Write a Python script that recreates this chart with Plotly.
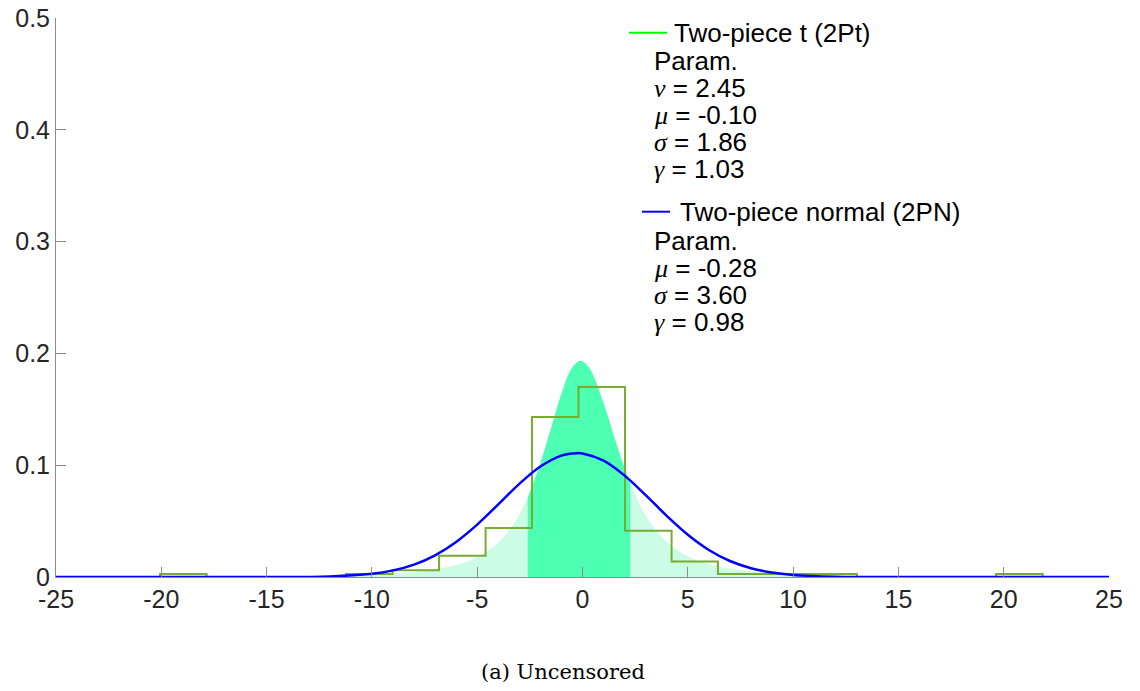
import plotly.graph_objects as go

# ---------------- data ----------------
# Histogram (stairs) of the data: bin edges and heights
bin_edges = [-20.06, -17.85, -15.64, -13.43, -11.23, -9.02, -6.81, -4.60, -2.40, -0.19,
             2.02, 4.23, 6.43, 8.64, 10.83, 13.03, 15.24, 17.44, 19.64, 21.85]
bin_heights = [0.0027, 0.0, 0.0, 0.0, 0.0027, 0.0060, 0.0190, 0.0438, 0.1431, 0.1700,
               0.0414, 0.0138, 0.0027, 0.0027, 0.0027, 0.0, 0.0, 0.0, 0.0027]

# Two-piece t density (light fill)
t_x = [-25, -20, -15, -12, -10, -8, -7, -6, -5, -4, -3.5, -3, -2.5, -2, -1.5, -1, -0.5,
       -0.1, 0.3, 1, 1.5, 2, 2.5, 3, 3.5, 4, 5, 6, 7, 8, 10, 12, 15, 20, 25]
t_y = [0.0001, 0.0002, 0.0006, 0.0012, 0.0022, 0.0045, 0.0068, 0.0107, 0.0177, 0.0308,
       0.0413, 0.0560, 0.0759, 0.1017, 0.1325, 0.1638, 0.1870, 0.1935, 0.1877, 0.1556,
       0.1256, 0.0972, 0.0736, 0.0552, 0.0415, 0.0314, 0.0186, 0.0115, 0.0075, 0.0050,
       0.0025, 0.0014, 0.0007, 0.0003, 0.0001]

# Central interval of the two-piece t density (dark fill)
c_x = [-2.6, -2.5, -2, -1.5, -1, -0.5, -0.1, 0.3, 1, 1.5, 2, 2.27]
c_y = [0.0714, 0.0759, 0.1017, 0.1325, 0.1638, 0.1870, 0.1935, 0.1877, 0.1556, 0.1256,
       0.0972, 0.0838]

# Two-piece normal density (blue line)
n_x = [-25, -20, -15, -12, -10, -9, -8, -7, -6, -5, -4, -3, -2, -1, -0.28, 0, 1, 2, 3,
       4, 5, 6, 7, 8, 9, 10, 12, 15, 20, 25]
n_y = [0.0, 0.0, 0.00003, 0.00055, 0.0029, 0.0059, 0.0111, 0.0194, 0.0314, 0.0469,
       0.0649, 0.0833, 0.0988, 0.1086, 0.1108, 0.1105, 0.1040, 0.0907, 0.0732, 0.0547,
       0.0378, 0.0242, 0.0143, 0.0079, 0.0040, 0.0019, 0.00033, 0.00002, 0.0, 0.0]

x_ticks = [-25, -20, -15, -10, -5, 0, 5, 10, 15, 20, 25]
x_ticktext = ["-25", "-20", "-15", "-10", "-5", "0", "5", "10", "15", "20", "25"]
y_ticks = [0, 0.1, 0.2, 0.3, 0.4, 0.5]
y_ticktext = ["0", "0.1", "0.2", "0.3", "0.4", "0.5"]

legend_t = ["Param.", "ν = 2.45", "μ = -0.10", "σ = 1.86", "γ = 1.03"]
legend_n = ["Param.", "μ = -0.28", "σ = 3.60", "γ = 0.98"]

# ---------------- figure ----------------
W, H = 1140, 691
ML, MR, MT, MB = 56, 31, 18, 114
PW, PH = W - ML - MR, H - MT - MB

def px(xp):
    return (xp - ML) / PW

def py(yp):
    return (H - MB - yp) / PH

fig = go.Figure()

fig.add_trace(go.Scatter(x=t_x, y=t_y, mode="lines", line=dict(width=0, shape="spline"),
                         fill="tozeroy", fillcolor="#CCFCE5", hoverinfo="skip",
                         showlegend=False))
fig.add_trace(go.Scatter(x=c_x, y=c_y, mode="lines", line=dict(width=0, shape="spline"),
                         fill="tozeroy", fillcolor="#4DFFB3", hoverinfo="skip",
                         showlegend=False))

hx = [bin_edges[0]] + bin_edges
hy = [0.0] + bin_heights + [0.0]
fig.add_trace(go.Scatter(x=hx, y=hy, mode="lines",
                         line=dict(color="#77AC30", width=2, shape="hv"),
                         showlegend=False))

fig.add_trace(go.Scatter(x=n_x, y=n_y, mode="lines",
                         line=dict(color="#0000FF", width=2.5, shape="spline"),
                         showlegend=False))

axis_common = dict(showgrid=False, zeroline=False, showline=True, linecolor="#8c8c8c",
                   linewidth=1, ticks="inside", ticklen=10, tickcolor="#8c8c8c",
                   automargin=False,
                   tickfont=dict(family="Liberation Sans, Arial", size=25, color="#262626"))
fig.update_xaxes(range=[-25, 25], tickvals=x_ticks, ticktext=x_ticktext, **axis_common)
fig.update_yaxes(range=[0, 0.5], tickvals=y_ticks, ticktext=y_ticktext, **axis_common)

def greek(s):
    g, rest = s[0], s[1:]
    if g in "νμσγ":
        return ('<span style="font-family:\'Liberation Serif\'"><i>%s</i></span>%s' % (g, rest))
    return s

anns = []
font = dict(family="Liberation Sans, Arial", size=26, color="#000000")
anns.append(dict(x=px(672), y=py(33), text="Two-piece t (2Pt)"))
t_rows = [61, 88, 115, 142, 169]
for s, yy in zip(legend_t, t_rows):
    anns.append(dict(x=px(652), y=py(yy), text=greek(s)))
anns.append(dict(x=px(678), y=py(212), text="Two-piece normal (2PN)"))
n_rows = [241, 268, 295, 322]
for s, yy in zip(legend_n, n_rows):
    anns.append(dict(x=px(652), y=py(yy), text=greek(s)))
for a in anns:
    a.update(xref="paper", yref="paper", xanchor="left", yanchor="middle",
             showarrow=False, font=font)
anns.append(dict(x=px(563), y=py(672), xref="paper", yref="paper", xanchor="center",
                 yanchor="middle", showarrow=False, text="(a) Uncensored",
                 font=dict(family="DejaVu Serif, Liberation Serif", size=21, color="#000000")))

shapes = [
    dict(type="line", xref="paper", yref="paper", x0=px(629), x1=px(667),
         y0=py(32.7), y1=py(32.7), line=dict(color="#00FF00", width=2)),
    dict(type="line", xref="paper", yref="paper", x0=px(642), x1=px(670),
         y0=py(211.7), y1=py(211.7), line=dict(color="#0000FF", width=2)),
]

fig.update_layout(template="none", width=W, height=H, autosize=False,
                  margin=dict(l=ML, r=MR, t=MT, b=MB),
                  paper_bgcolor="white", plot_bgcolor="white",
                  showlegend=False, annotations=anns, shapes=shapes)

fig.write_html("out.html")
